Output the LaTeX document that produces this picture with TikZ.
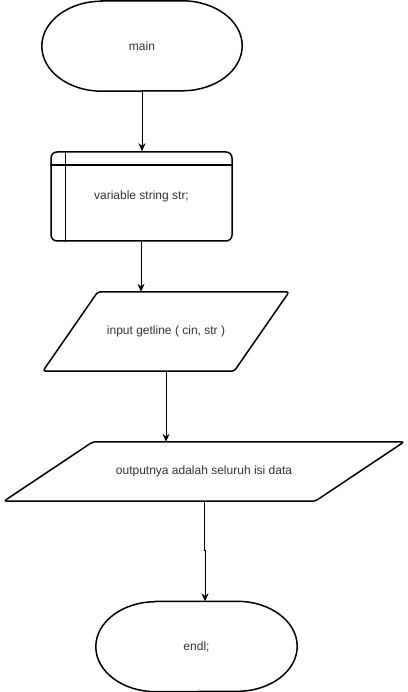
\documentclass[tikz,border=0pt]{standalone}
\usepackage{fontspec}
\setmainfont{Liberation Sans}
\usetikzlibrary{arrows.meta}
\begin{document}
\begin{tikzpicture}[x=1pt,y=-1pt,
  font=\fontsize{12}{14}\selectfont,
  box/.style={rectangle,inner sep=0pt,text=black!80},
  outline/.style={draw=black,line width=1.5pt},
  store/.style={box,outline,rounded corners=6pt,minimum width=181pt,minimum height=89pt},
  conn/.style={draw=black,line width=1pt,-{Stealth[length=8pt,width=7pt]}}]
\useasboundingbox (0,0) rectangle (407,692);
% terminator main
\node[box,minimum width=200pt,minimum height=90pt] (main) at (142,46) {main};
\draw[outline] ([xshift=60pt]main.north west) -- ([xshift=-60pt]main.north east)
  arc[start angle=90,end angle=-90,x radius=60pt,y radius=45pt]
  -- ([xshift=60pt]main.south west)
  arc[start angle=270,end angle=90,x radius=60pt,y radius=45pt] -- cycle;
% internal storage
\node[store] (var) at (141.5,196.5) {variable string str;};
\draw[outline] ([xshift=15pt]var.north west) -- ([xshift=15pt]var.south west);
\draw[outline] ([yshift=-14pt]var.north west) -- ([yshift=-14pt]var.north east);
% input parallelogram
\node[box,minimum width=246pt,minimum height=79pt] (inp) at (166,331.5) {input getline ( cin, str )};
\draw[outline,rounded corners=3pt] ([xshift=55pt]inp.north west) -- (inp.north east)
  -- ([xshift=-55pt]inp.south east) -- (inp.south west) -- cycle;
% output parallelogram
\node[box,minimum width=400pt,minimum height=59pt] (out) at (204,471.5) {outputnya adalah seluruh isi data};
\draw[outline,rounded corners=3pt] ([xshift=89pt]out.north west) -- (out.north east)
  -- ([xshift=-89pt]out.south east) -- (out.south west) -- cycle;
% terminator end
\node[box,minimum width=201pt,minimum height=90pt] (end) at (196.5,646.5) {endl;};
\draw[outline] ([xshift=60pt]end.north west) -- ([xshift=-60pt]end.north east)
  arc[start angle=90,end angle=-90,x radius=60pt,y radius=45pt]
  -- ([xshift=60pt]end.south west)
  arc[start angle=270,end angle=90,x radius=60pt,y radius=45pt] -- cycle;
% connectors
\draw[conn] (main.south -| 142,0) -- (var.north -| 142,0);
\draw[conn] (var.south -| 141,0) -- (inp.north -| 141,0);
\draw[conn] (inp.south -| 166,0) -- (out.north -| 166,0);
\draw[conn] (out.south -| 204,0) -- (204,550) -- (205,550) -- (end.north -| 205,0);
\end{tikzpicture}
\end{document}
